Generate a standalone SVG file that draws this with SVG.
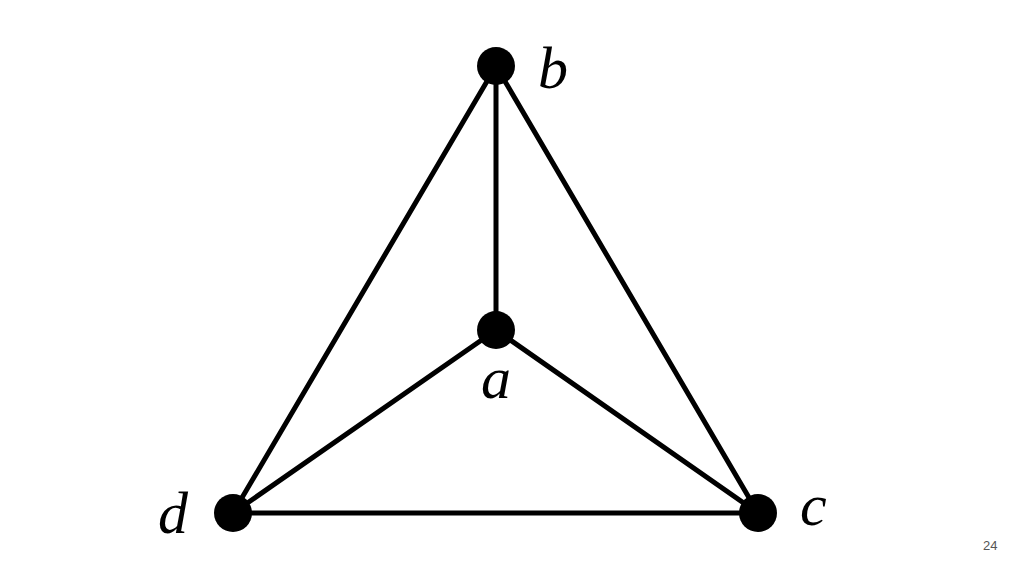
<svg xmlns="http://www.w3.org/2000/svg" width="1024" height="576" viewBox="0 0 1024 576">
<style>
.e{stroke:#000;stroke-width:5;stroke-linecap:round}
.n{fill:#000}
.l{font-family:"Liberation Serif",serif;font-style:italic;font-size:60px;fill:#000}
.p{font-family:"Liberation Sans",sans-serif;font-size:13px;fill:#555}
</style>
<rect width="1024" height="576" fill="#fff"/>
<g id="connectors">
<line class="e" x1="496" y1="66" x2="496" y2="330"/>
<line class="e" x1="496" y1="66" x2="233" y2="513"/>
<line class="e" x1="496" y1="66" x2="758" y2="513"/>
<line class="e" x1="496" y1="330" x2="233" y2="513"/>
<line class="e" x1="496" y1="330" x2="758" y2="513"/>
<line class="e" x1="233" y1="513" x2="758" y2="513"/>
</g>
<g id="node-b"><circle class="n" cx="496" cy="66" r="19"/><text class="l" x="538" y="88">b</text></g>
<g id="node-a"><circle class="n" cx="496" cy="330" r="19"/><text class="l" x="481" y="398">a</text></g>
<g id="node-d"><circle class="n" cx="233" cy="513" r="19"/><text class="l" x="158" y="533">d</text></g>
<g id="node-c"><circle class="n" cx="758" cy="513" r="19"/><text class="l" x="800" y="525">c</text></g>
<text class="p" x="983" y="550">24</text>
</svg>
